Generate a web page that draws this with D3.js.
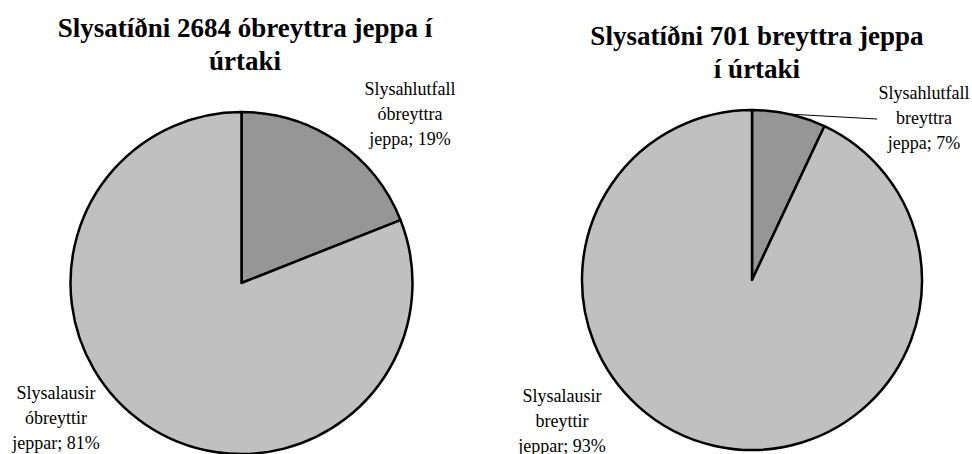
<!DOCTYPE html>
<html>
<head>
<meta charset="utf-8">
<script src="https://cdn.jsdelivr.net/npm/d3@7"></script>
<style>
  html, body { margin: 0; padding: 0; background: #fff; }
  svg { display: block; }
</style>
</head>
<body>
<svg id="chart" width="972" height="454"></svg>
<script>
// ---- data ----
const titles1 = ["Slysatíðni 2684 óbreyttra jeppa í", "úrtaki"];
const categories1 = ["Slysahlutfall óbreyttra jeppa", "Slysalausir óbreyttir jeppar"];
const values1 = [19, 81];

const titles2 = ["Slysatíðni 701 breyttra jeppa", "í úrtaki"];
const categories2 = ["Slysahlutfall breyttra jeppa", "Slysalausir breyttir jeppar"];
const values2 = [7, 93];

const sliceColors = ["#969696", "#c0c0c0"];

// ---- layout ----
const layouts = [
  { titles: titles1, cats: categories1, vals: values1,
    cx: 241.5, cy: 283, r: 171,
    titleX: 245, titleY: 37,
    labels: [{ x: 410, y: 94.5, leader: null }, { x: 56, y: 398.5, leader: null }] },
  { titles: titles2, cats: categories2, vals: values2,
    cx: 752, cy: 280, r: 170,
    titleX: 757, titleY: 45,
    labels: [{ x: 924, y: 99, leader: [877, 119] }, { x: 562, y: 401.5, leader: null }] }
];

const svg = d3.select("#chart");
const font = "Liberation Serif";

layouts.forEach(L => {
  const g = svg.append("g");
  // title
  const t = g.append("text")
    .attr("text-anchor", "middle")
    .style("font-family", font)
    .style("font-weight", "bold")
    .style("font-size", "27px")
    .attr("fill", "#000");
  L.titles.forEach((line, i) => {
    t.append("tspan").attr("x", L.titleX).attr("y", L.titleY + i * 33).text(line);
  });

  const pie = d3.pie().sort(null).value(d => d)(L.vals);
  const arc = d3.arc().innerRadius(0).outerRadius(L.r);
  const pg = g.append("g").attr("transform", `translate(${L.cx},${L.cy})`);
  pg.selectAll("path.slice").data(pie).join("path")
    .attr("class", "slice")
    .attr("d", arc)
    .attr("fill", (d, i) => sliceColors[i])
    .attr("stroke", "#000")
    .attr("stroke-width", 2.5)
    .attr("stroke-linejoin", "round");

  pie.forEach((d, i) => {
    const lab = L.labels[i];
    const words = L.cats[i].split(" ");
    words[words.length - 1] += "; " + L.vals[i] + "%";
    if (lab.leader) {
      const mid = (d.startAngle + d.endAngle) / 2;
      const px = L.cx + L.r * Math.sin(mid);
      const py = L.cy - L.r * Math.cos(mid);
      g.append("line")
        .attr("x1", px).attr("y1", py)
        .attr("x2", lab.leader[0]).attr("y2", lab.leader[1])
        .attr("stroke", "#000").attr("stroke-width", 1);
    }
    const tx = g.append("text")
      .attr("text-anchor", "middle")
      .style("font-family", font)
      .style("font-size", "18px")
      .attr("fill", "#000");
    words.forEach((w, j) => {
      tx.append("tspan").attr("x", lab.x).attr("y", lab.y + j * 25).text(w);
    });
  });
});
</script>
</body>
</html>
